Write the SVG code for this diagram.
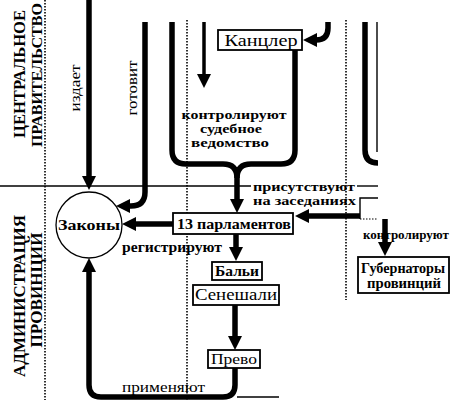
<svg xmlns="http://www.w3.org/2000/svg" width="451" height="400" viewBox="0 0 451 400">
<style>
.thick{fill:none;stroke:#000;stroke-width:5.5}
.thin{fill:none;stroke:#000;stroke-width:1.4}
.dot{fill:none;stroke:#000;stroke-width:1.6;stroke-dasharray:1.5 1.5}
.box{fill:#fff;stroke:#000;stroke-width:1.8}
.circ{fill:#fff;stroke:#000;stroke-width:1.3}
text{font-family:'Liberation Serif','DejaVu Serif','Times New Roman',serif;fill:#000}
.b{font-weight:bold}
.cap{font-weight:bold}
</style>
<defs>
<marker id="ah" markerUnits="userSpaceOnUse" markerWidth="14" markerHeight="14" viewBox="0 0 14 14" refX="3" refY="7" orient="auto"><path d="M0,0 L14,7 L0,14 z" fill="#000"/></marker>
</defs>
<rect width="451" height="400" fill="#fff"/>

<g id="grid">
<path class="dot" d="M45,0 V400"/>
<path class="dot" d="M187,20 V400"/>
<path class="dot" d="M346,20 V300"/>
<path class="thin" d="M0,186 H251"/>
<path class="thin" d="M357,186 H378"/>
<path class="thin" d="M237,397 H279"/>
</g>

<g id="sides" font-size="16">
<text class="cap" transform="translate(25,74) rotate(-90)" text-anchor="middle" textLength="128" lengthAdjust="spacingAndGlyphs">ЦЕНТРАЛЬНОЕ</text>
<text class="cap" transform="translate(42,75) rotate(-90)" text-anchor="middle" font-size="15" textLength="144" lengthAdjust="spacingAndGlyphs">ПРАВИТЕЛЬСТВО</text>
<text class="cap" transform="translate(25,296) rotate(-90)" text-anchor="middle" textLength="162" lengthAdjust="spacingAndGlyphs">АДМИНИСТРАЦИЯ</text>
<text class="cap" transform="translate(42,290) rotate(-90)" text-anchor="middle" textLength="115" lengthAdjust="spacingAndGlyphs">ПРОВИНЦИЙ</text>
</g>

<g id="connectors">
<path class="thick" d="M89,-5 V179" marker-end="url(#ah)"/>
<path class="thick" d="M145,22 V192 Q145,206 131,206 H127" marker-end="url(#ah)"/>
<path class="thick" d="M173,224 H133" marker-end="url(#ah)"/>
<path class="thick" d="M172,22 V150 Q172,164 186,164 H223 Q237,164 237,178 V202" marker-end="url(#ah)"/>
<path class="thick" d="M295,50 V150 Q295,164 281,164 H251 Q237,164 237,178"/>
<path class="thick" style="stroke-width:3.5" d="M204,22 V77" marker-end="url(#ah)"/>
<path class="thick" d="M328,22 V28 Q328,40 316,40 H314" marker-end="url(#ah)"/>
<path class="thick" d="M365,22 V150 Q365,163 378,163"/>
<path class="thin" d="M377,22 V152"/>
<path class="thin" d="M378,198 H360 V219"/>
<path class="dot" style="stroke-width:1.2" d="M360,219 H378"/>
<path class="thick" d="M360,216 H306" marker-end="url(#ah)"/>
<path class="thick" d="M385,219 V245" marker-end="url(#ah)"/>
<path class="thick" d="M236,234 V250" marker-end="url(#ah)"/>
<path class="thick" d="M235,305 V339" marker-end="url(#ah)"/>
<path class="thick" d="M235,368 V385 Q235,397 223,397 H101 Q89,397 89,385 V269" marker-end="url(#ah)"/>
</g>

<g id="labels" font-size="13.5">
<text transform="translate(80,88) rotate(-90)" text-anchor="middle" font-size="15" textLength="47" lengthAdjust="spacingAndGlyphs">издает</text>
<text transform="translate(137,88) rotate(-90)" text-anchor="middle" font-size="15" textLength="55" lengthAdjust="spacingAndGlyphs">готовит</text>
<text class="b" x="234" y="119" text-anchor="middle" textLength="105" lengthAdjust="spacingAndGlyphs">контролируют</text>
<text class="b" x="231" y="133" text-anchor="middle" textLength="62" lengthAdjust="spacingAndGlyphs">судебное</text>
<text class="b" x="230" y="147" text-anchor="middle" textLength="78" lengthAdjust="spacingAndGlyphs">ведомство</text>
<text class="b" x="253" y="191" textLength="102" lengthAdjust="spacingAndGlyphs">присутствуют</text>
<text class="b" x="253" y="205" textLength="103" lengthAdjust="spacingAndGlyphs">на заседаниях</text>
<text class="b" x="363" y="239" font-size="12.5" textLength="86" lengthAdjust="spacingAndGlyphs">контролируют</text>
<text class="b" x="122" y="252" font-size="15" textLength="100" lengthAdjust="spacingAndGlyphs">регистрируют</text>
<text x="122" y="392" font-size="15" textLength="83" lengthAdjust="spacingAndGlyphs">применяют</text>
</g>

<g id="zakony">
<circle class="circ" cx="89" cy="225" r="33"/>
<text class="b" x="89" y="230" text-anchor="middle" font-size="15" textLength="62" lengthAdjust="spacingAndGlyphs">Законы</text>
</g>
<g id="kancler">
<rect class="box" x="218" y="30" width="84" height="20"/>
<text x="261" y="45.5" text-anchor="middle" font-size="16" textLength="73" lengthAdjust="spacingAndGlyphs">Канцлер</text>
</g>
<g id="parlamenty">
<rect class="box" x="173" y="213" width="120" height="21"/>
<text class="b" x="234" y="228.5" text-anchor="middle" font-size="14.5" textLength="114" lengthAdjust="spacingAndGlyphs">13 парламентов</text>
</g>
<g id="bali">
<rect class="box" x="212" y="262" width="50" height="18"/>
<text class="b" x="237" y="276" text-anchor="middle" font-size="14.5" textLength="44" lengthAdjust="spacingAndGlyphs">Бальи</text>
</g>
<g id="seneshali">
<rect class="box" x="193" y="285" width="86" height="20"/>
<text x="236" y="300" text-anchor="middle" font-size="16" textLength="82" lengthAdjust="spacingAndGlyphs">Сенешали</text>
</g>
<g id="prevo">
<rect class="box" x="208" y="350" width="52" height="18"/>
<text x="234" y="364" text-anchor="middle" font-size="15.5" textLength="46" lengthAdjust="spacingAndGlyphs">Прево</text>
</g>
<g id="gubernatory">
<rect class="box" x="358" y="257" width="91" height="36"/>
<text class="b" x="403" y="273" text-anchor="middle" font-size="14" textLength="84" lengthAdjust="spacingAndGlyphs">Губернаторы</text>
<text class="b" x="404" y="288" text-anchor="middle" font-size="14" textLength="74" lengthAdjust="spacingAndGlyphs">провинций</text>
</g>
</svg>
